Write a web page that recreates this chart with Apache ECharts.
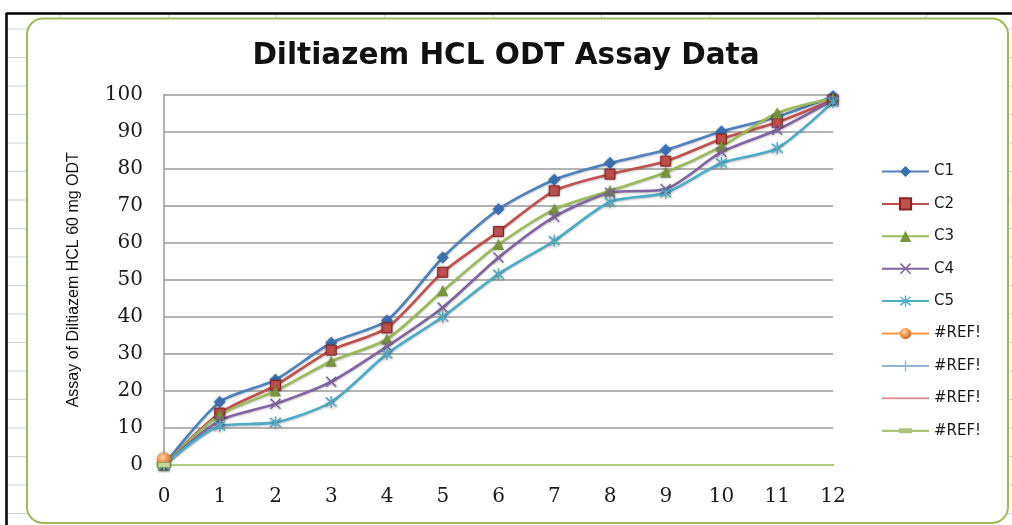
<!DOCTYPE html>
<html>
<head>
<meta charset="utf-8">
<script src="https://cdn.jsdelivr.net/npm/echarts@6/dist/echarts.min.js"></script>
<style>html,body{margin:0;padding:0;background:#fff;}#c{width:1012px;height:525px;}</style>
</head>
<body>
<div id="c"></div>
<script>
var categories = ['0','1','2','3','4','5','6','7','8','9','10','11','12'];
var c1 = [0, 17, 23, 33, 39, 56, 69, 77, 81.5, 85, 90, 94, 99.5];
var c2 = [0, 14, 21.5, 31, 37, 52, 63, 74, 78.5, 82, 88, 92.5, 98.5];
var c3 = [0, 13.5, 20, 28, 34, 47, 59.5, 69, 74, 79, 86, 95, 99];
var c4 = [0, 12, 16.5, 22.5, 32, 42.5, 56, 67, 73.5, 74.5, 84.5, 90.5, 98.5];
var c5 = [0, 10.5, 11.5, 17, 30, 40, 51.5, 60.5, 71, 73.5, 81.5, 85.5, 98];
var ref1 = [1.5];
var ref2 = [0];
var ref3 = [0];
var ref4 = [0, 0, 0, 0, 0, 0, 0, 0, 0, 0, 0, 0, 0];
// the four "#REF!" entries are told apart by trailing spaces so the legend keeps all of them
var seriesNames = ['C1', 'C2', 'C3', 'C4', 'C5', '#REF!', '#REF! ', '#REF!  ', '#REF!   '];

var xPath = 'path://M0,1 L1,0 L5,4 L9,0 L10,1 L6,5 L10,9 L9,10 L5,6 L1,10 L0,9 L4,5 Z';
var starPath = 'path://M0,1 L1,0 L5,4 L9,0 L10,1 L6,5 L10,9 L9,10 L5,6 L1,10 L0,9 L4,5 Z M4.4,-1 L5.6,-1 L5.6,11 L4.4,11 Z';
var plusPath = 'path://M4.4,0 L5.6,0 L5.6,10 L4.4,10 Z M0,4.4 L10,4.4 L10,5.6 L0,5.6 Z';
// legend icon for the last entry: line with a small flat dash marker (tiny corner triangles fix the box)
var dashLegendIcon = 'path://M0,0 L0.02,0 L0,0.02 Z M47,14 L46.98,14 L47,13.98 Z M0,6 L17,6 L17,4.5 L30,4.5 L30,6 L47,6 L47,8.2 L30,8.2 L30,9.5 L17,9.5 L17,8.2 L0,8.2 Z';

function mk(name, data, color, symbol, size, extra) {
  var s = {
    name: name, type: 'line', data: data, smooth: 0.25,
    symbol: symbol, symbolSize: size,
    lineStyle: { color: color, width: 2.6, shadowColor: 'rgba(0,0,0,0.25)', shadowBlur: 2, shadowOffsetY: 1 },
    itemStyle: { color: color, shadowColor: 'rgba(0,0,0,0.35)', shadowBlur: 3, shadowOffsetY: 1 },
    emphasis: { disabled: true },
    animation: false
  };
  if (extra) { for (var k in extra) s[k] = extra[k]; }
  return s;
}

var ticks = [];
for (var i = 0; i < 18; i++) {
  var yy = 29 + i * 28.5;
  ticks.push({ type: 'line', shape: { x1: 8, y1: yy, x2: 27, y2: yy }, style: { stroke: '#C9D2E0', lineWidth: 1 }, z: -2 });
  ticks.push({ type: 'line', shape: { x1: 1008, y1: yy, x2: 1012, y2: yy }, style: { stroke: '#C9D2E0', lineWidth: 1 }, z: -2 });
}
for (var j = 0; j < 9; j++) {
  var xx = 60 + j * 108.3;
  ticks.push({ type: 'line', shape: { x1: xx, y1: 14, x2: xx, y2: 18 }, style: { stroke: '#C9D2E0', lineWidth: 1 }, z: -2 });
}

var legendData = seriesNames.map(function (n, i) {
  if (i === 8) return { name: n, icon: dashLegendIcon, itemStyle: { color: '#A9C47A', borderWidth: 0, shadowBlur: 0 } };
  return { name: n };
});

var option = {
  backgroundColor: '#fff',
  animation: false,
  title: {
    text: 'Diltiazem HCL ODT Assay Data',
    left: 'center', top: 36,
    textStyle: { fontFamily: 'DejaVu Sans', fontWeight: 'bold', fontSize: 29.5, color: '#111' }
  },
  graphic: [
    { type: 'line', shape: { x1: 6, y1: 13.5, x2: 1012, y2: 13.5 }, style: { stroke: '#000', lineWidth: 2.5 }, z: -1 },
    { type: 'line', shape: { x1: 6.5, y1: 13, x2: 6.5, y2: 525 }, style: { stroke: '#000', lineWidth: 2.5 }, z: -1 },
    { type: 'rect', shape: { x: 27, y: 18.5, width: 981, height: 504.5, r: 16 }, style: { fill: '#fff', stroke: '#9BBB59', lineWidth: 2 }, z: -1 }
  ].concat(ticks),
  legend: {
    orient: 'vertical', left: 881, top: 164, padding: 0,
    itemWidth: 47, itemHeight: 14, itemGap: 17.4,
    textStyle: { fontFamily: 'DejaVu Sans', fontSize: 15, color: '#1a1a1a', lineHeight: 14 },
    data: legendData
  },
  grid: { left: 164, right: 179, top: 94.5, bottom: 60, containLabel: false },
  xAxis: {
    type: 'category', data: categories, boundaryGap: false,
    axisLine: { show: true, lineStyle: { color: '#9BBB59', width: 2 } },
    axisTick: { show: false },
    axisLabel: { fontFamily: 'DejaVu Serif', fontSize: 20, color: '#1a1a1a', margin: 22 },
    splitLine: { show: false }
  },
  yAxis: {
    type: 'value', min: 0, max: 100, interval: 10,
    name: 'Assay of Diltiazem HCL 60 mg ODT', nameLocation: 'middle', nameGap: 82, nameRotate: 90,
    nameTextStyle: { fontFamily: 'Liberation Sans', fontSize: 16, color: '#111' },
    axisLine: { show: true, lineStyle: { color: '#9a9a9a', width: 1.5 } },
    axisTick: { show: false },
    axisLabel: { fontFamily: 'DejaVu Serif', fontSize: 20, color: '#1a1a1a', margin: 21 },
    splitLine: { show: true, lineStyle: { color: '#9a9a9a', width: 1.5 } }
  },
  series: [
    mk(seriesNames[0], c1, '#4F81BD', 'diamond', 12, { itemStyle: { color: '#3A6FB0', shadowColor: 'rgba(0,0,0,0.35)', shadowBlur: 3 } }),
    mk(seriesNames[1], c2, '#C0504D', 'rect', 10, { itemStyle: { color: '#C0504D', borderColor: '#8B2523', borderWidth: 1, shadowColor: 'rgba(0,0,0,0.35)', shadowBlur: 3 } }),
    mk(seriesNames[2], c3, '#9BBB59', 'triangle', 11, { itemStyle: { color: '#77933C', shadowColor: 'rgba(0,0,0,0.35)', shadowBlur: 3 } }),
    mk(seriesNames[3], c4, '#8064A2', xPath, 11),
    mk(seriesNames[4], c5, '#4BACC6', starPath, 12),
    mk(seriesNames[5], ref1, '#F79646', 'circle', 14, { itemStyle: { color: { type: 'radial', x: 0.4, y: 0.35, r: 0.7, colorStops: [{ offset: 0, color: '#FCD5B4' }, { offset: 0.5, color: '#F79646' }, { offset: 1, color: '#C0601A' }] }, shadowColor: 'rgba(0,0,0,0.4)', shadowBlur: 3 } }),
    mk(seriesNames[6], ref2, '#95B3D7', plusPath, 10),
    mk(seriesNames[7], ref3, '#D99694', 'circle', 1, { itemStyle: { color: '#D99694', opacity: 0 } }),
    mk(seriesNames[8], ref4.map(function (v, i) { return i === 0 ? v : { value: v, symbol: 'none' }; }), '#B3CB86', 'rect', [13, 5], { lineStyle: { color: '#B3CB86', width: 2.2 }, itemStyle: { color: '#C4D79B', borderColor: '#76923C', borderWidth: 1 } })
  ]
};
var chart = echarts.init(document.getElementById('c'), null, { renderer: 'canvas' });
chart.setOption(option);
</script>
</body>
</html>
